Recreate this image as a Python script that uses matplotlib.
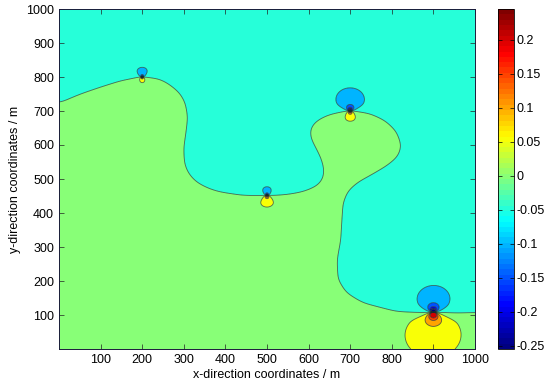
import numpy as np
import matplotlib
matplotlib.use("Agg")
import matplotlib.pyplot as plt
from matplotlib.path import Path
from matplotlib.colors import LinearSegmentedColormap, Normalize
from matplotlib.cm import ScalarMappable

plt.rcParams['font.family'] = ['Liberation Sans', 'DejaVu Sans']

# ---- data ----
# boundary between the cyan (upper) and green (lower) regions, (x, y) in m
boundary_x = [-50, 0, 50, 100, 150, 200, 240, 266, 290, 304, 310, 306, 300, 302, 312, 331, 360,
              386, 440, 499, 550, 586, 620, 634, 637, 630, 618, 605, 603, 612, 630, 655, 700,
              746, 785, 812, 824, 815, 790, 755, 718, 695, 683, 680, 677, 668, 670, 690, 730,
              811, 898, 950, 1000, 1050, 1050, -50]
boundary_y = [700, 724, 750, 771, 790, 800, 796, 779, 755, 725, 682, 640, 590, 545, 515, 490, 472,
              462, 452, 450, 455, 463, 480, 500, 528, 560, 590, 620, 645, 665, 680, 692, 700,
              694, 672, 640, 598, 565, 540, 515, 490, 465, 430, 380, 320, 262, 205, 165, 135,
              109, 103, 103, 106, 108, -50, -50]
bg_upper = -0.025    # value of cyan region
bg_lower = 0.025     # value of green region

# dipole sources
dipole_x = [200, 500, 700, 900]
dipole_y = [800, 452, 700, 108]
dipole_neg = [0.62, 0.65, 1.4, 2.2]    # strength of upper (negative) lobe
dipole_pos = [0.55, 0.85, 0.9, 3.0]    # strength of lower (positive) lobe

vmin, vmax = -0.255, 0.245
levels_inner = [-0.25, -0.2, -0.15, -0.1, -0.05, 0.0, 0.05, 0.1, 0.15, 0.2]
xticks = [100, 200, 300, 400, 500, 600, 700, 800, 900, 1000]
yticks = [100, 200, 300, 400, 500, 600, 700, 800, 900, 1000]
cbar_ticks = [-0.25, -0.2, -0.15, -0.1, -0.05, 0, 0.05, 0.1, 0.15, 0.2]
cbar_labels = ['-0.25', '-0.2', '-0.15', '-0.1', '-0.05', '0', '0.05', '0.1', '0.15', '0.2']

# ---- MATLAB-like jet ----
jet = LinearSegmentedColormap.from_list(
    'mjet', [(0, (0, 0, 0.5)), (1/8, (0, 0, 1)), (3/8, (0, 1, 1)),
             (5/8, (1, 1, 0)), (7/8, (1, 0, 0)), (1, (0.5, 0, 0))], N=64)
norm = Normalize(vmin=vmin, vmax=vmax)

# ---- field ----
xs = np.linspace(0, 1000, 1001)
ys = np.linspace(0, 1000, 1001)
X, Y = np.meshgrid(xs, ys)
path = Path(np.column_stack([boundary_x, boundary_y]))
inside = path.contains_points(np.column_stack([X.ravel(), Y.ravel()])).reshape(X.shape)
frac = inside.astype(float)


def box(a, w, axis):
    pad = w // 2
    pw = [(0, 0), (0, 0)]
    pw[axis] = (pad, pad)
    ap = np.pad(a, pw, mode='edge')
    c = np.cumsum(ap, axis=axis)
    zshape = list(c.shape)
    zshape[axis] = 1
    c = np.concatenate([np.zeros(zshape), c], axis=axis)
    n = a.shape[axis]
    hi = np.take(c, np.arange(w, w + n), axis=axis)
    lo = np.take(c, np.arange(0, n), axis=axis)
    return (hi - lo) / w


for _ in range(3):
    frac = box(frac, 23, 0)
    frac = box(frac, 23, 1)

Z = bg_upper + (bg_lower - bg_upper) * frac
for dx, dy, pn, pp in zip(dipole_x, dipole_y, dipole_neg, dipole_pos):
    r2 = (X - dx) ** 2 + (Y - dy) ** 2 + 1e-6
    d = (dy - Y) / r2
    Z = Z + np.where(d > 0, pp, pn) * d
Z = np.clip(Z, vmin + 1e-4, vmax - 1e-4)

levels = [vmin] + levels_inner + [vmax]
band_colors = [jet(norm(l)) for l in levels[:-1]]

# ---- figure ----
fig = plt.figure(figsize=(5.5, 3.84), dpi=100)
ax = fig.add_axes([59/550, 35/384, 416/550, 340/384])
ax.contourf(X, Y, Z, levels=levels, colors=band_colors, antialiased=True)
ax.contour(X, Y, Z, levels=levels_inner, colors='#1a2a2a', linewidths=0.6, alpha=0.7,
           linestyles='solid')
ax.set_xlim(0, 1000)
ax.set_ylim(0, 1000)
ax.set_xticks(xticks)
ax.set_yticks(yticks)
ax.tick_params(direction='in', top=True, right=True, length=3.5, width=0.5,
               labelsize=9, colors='#222222', labelcolor='black')
for s in ax.spines.values():
    s.set_linewidth(0.7)
    s.set_color('#1a1a3a')
ax.set_xlabel('x-direction coordinates / m', fontsize=9, labelpad=2)
ax.set_ylabel('y-direction coordinates / m', fontsize=9, labelpad=4)

cax = fig.add_axes([498/550, 35/384, 16/550, 340/384])
sm = ScalarMappable(norm=norm, cmap=jet)
cb = fig.colorbar(sm, cax=cax)
cb.set_ticks(cbar_ticks)
cb.set_ticklabels(cbar_labels)
cax.tick_params(direction='in', length=3, width=0.5, labelsize=9, left=True, right=True, pad=2)
cb.outline.set_linewidth(0.6)

fig.savefig('out.png', dpi=100)
